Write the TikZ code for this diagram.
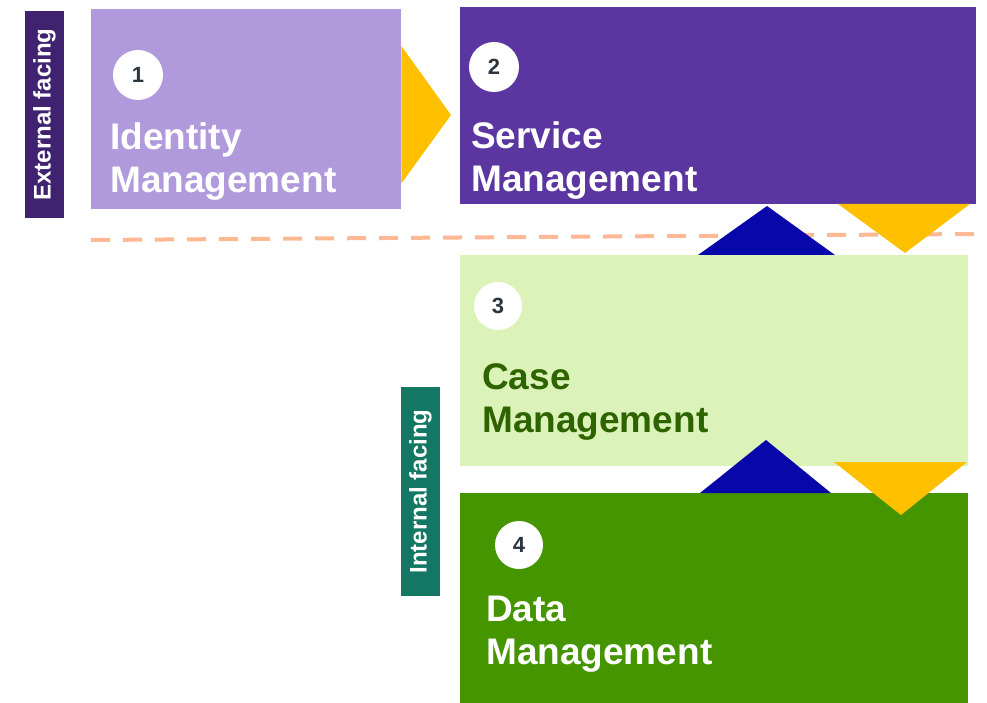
\documentclass[tikz,border=0pt]{standalone}
\usepackage{fontspec}
\setmainfont{Liberation Sans}
\usepackage{tikz}
\usetikzlibrary{
  positioning,  % Function "of" (e.g. [right=of x])
  calc,         % Calculations $...$
}
\definecolor{extfacing}{HTML}{3F2371}
\definecolor{intfacing}{HTML}{137763}
\definecolor{identity}{HTML}{B09ADC}
\definecolor{service}{HTML}{5B36A0}
\definecolor{casemgmt}{HTML}{DBF2B9}
\definecolor{casetext}{HTML}{2E6400}
\definecolor{datamgmt}{HTML}{449500}
\definecolor{flowyellow}{HTML}{FFC000}
\definecolor{flowblue}{HTML}{0707AA}
\definecolor{boundary}{HTML}{FFB894}
\definecolor{numtext}{HTML}{2B3540}
\tikzset{
  font=\bfseries,
  block/.style={
    draw=none,
    rectangle,
    inner sep=0pt,
    anchor=north west
  },
  side tag/.style={
    draw=none,
    rectangle,
    inner sep=0pt,
    text=white,
    font=\fontsize{24}{24}\selectfont\bfseries,
    rotate=90,
    anchor=center,
    text height=17pt,
    text depth=5pt
  },
  step num/.style={
    circle,
    fill=white,
    minimum size=50pt,
    inner sep=0pt,
    text=numtext,
    font=\fontsize{22}{22}\selectfont\bfseries
  },
  % anchor base = baseline of the second line
  block title/.style={
    align=left,
    anchor=base west,
    inner sep=0pt,
    font=\fontsize{37}{43}\selectfont\bfseries
  },
  up flow/.style={fill=flowblue},
  down flow/.style={fill=flowyellow}
}

\begin{document}
\begin{tikzpicture}[x=1pt,y=-1pt]
\useasboundingbox (0,0) rectangle (987,703);
% facing tags
\node[side tag,fill=extfacing,minimum width=207pt,minimum height=39pt] (ext)
  at (44.5,114.5) {External facing};
\node[side tag,fill=intfacing,minimum width=209pt,minimum height=39pt] (int)
  at (420.5,491.5) {Internal facing};
% the four blocks
\node[block,fill=identity,minimum width=310pt,minimum height=200pt] (idm) at (91,9) {};
\node[block,fill=service,minimum width=516pt,minimum height=197pt] (svc) at (460,7) {};
\node[block,fill=casemgmt,minimum width=508pt,minimum height=211pt] (cse) at (460,255) {};
\node[block,fill=datamgmt,minimum width=508pt,minimum height=210pt] (dat) at (460,493) {};
% external / internal boundary
\coordinate (bl) at (91,240);
\coordinate (br) at (975,234);
\draw[boundary,line width=4pt,dash pattern=on 19pt off 13pt] (bl) -- (br);
% flows between blocks
\fill[down flow] ($(idm.north east)+(0,37)$) -- (451,115) -- ($(idm.south east)+(0,-26)$) -- cycle;
\fill[up flow] (698,255) -- (767,206) -- (835,255) -- cycle;
\fill[down flow] (838,204) -- (970,204) -- (905,253) -- cycle;
\fill[up flow] (700,493) -- (766,440) -- (831,493) -- cycle;
\fill[down flow] (834,462) -- (967,462) -- (901,515) -- cycle;
% numbers
\node[step num] (n1) at (138,75) {1};
\node[step num] (n2) at (494,67) {2};
\node[step num,minimum size=48pt] (n3) at (498,306) {3};
\node[step num,minimum size=48pt] (n4) at (519,545) {4};
% titles
\node[block title,text=white] (t1) at (110,193) {Identity\\Management};
\node[block title,text=white] (t2) at (471,192) {Service\\Management};
\node[block title,text=casetext] (t3) at (482,432) {Case\\Management};
\node[block title,text=white] (t4) at (486,664) {Data\\Management};
\end{tikzpicture}
\end{document}
